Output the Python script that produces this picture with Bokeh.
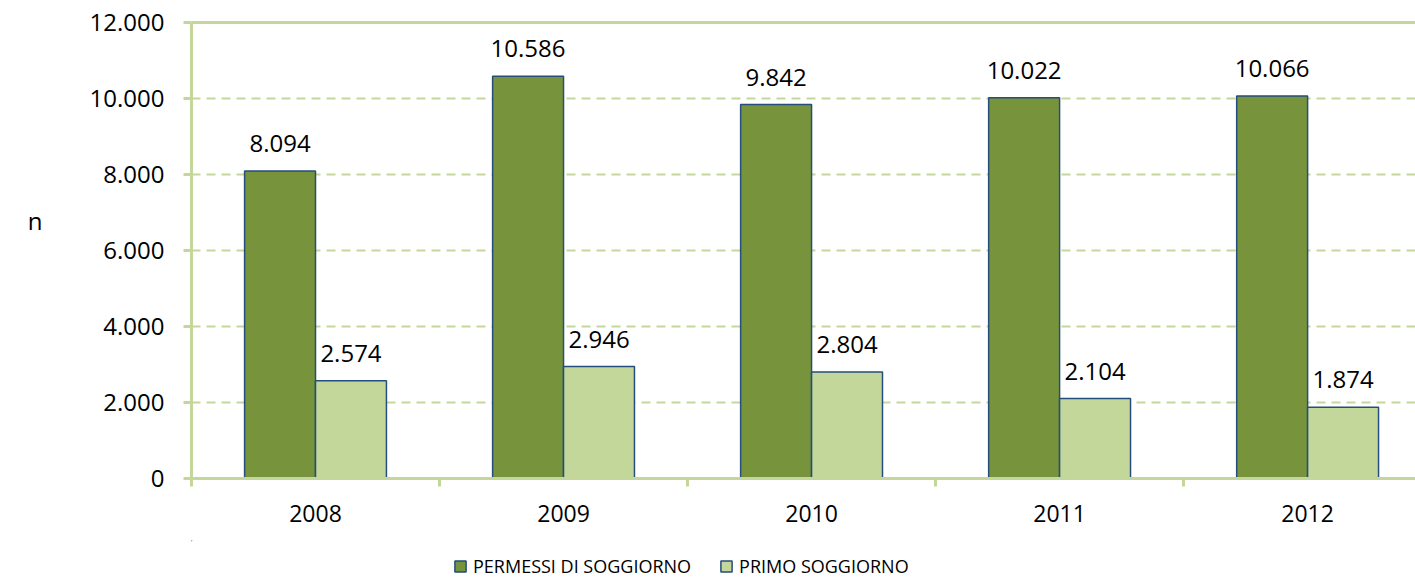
from bokeh.plotting import figure
from bokeh.layouts import column
from bokeh.models import (Range1d, FixedTicker, LinearAxis, Legend, LegendItem,
                          LabelSet, ColumnDataSource, Grid)
from bokeh.core.properties import value
from bokeh.embed import file_html
from bokeh.resources import INLINE

years = ["2008", "2009", "2010", "2011", "2012"]
permessi = [8094, 10586, 9842, 10022, 10066]
primo = [2574, 2946, 2804, 2104, 1874]
y_ticks = [0, 2000, 4000, 6000, 8000, 10000, 12000]
series_names = ["PERMESSI DI SOGGIORNO", "PRIMO SOGGIORNO"]
y_title = "n"

DARK = "#77933c"
LIGHT = "#c4d79b"
EDGE = "#254e7c"
AXIS = "#c4d79b"
FONT = "Open Sans"

def it_fmt(v):
    return f"{v:,}".replace(",", ".")

idx = list(range(len(years)))
bw = 0.286
src1 = ColumnDataSource(dict(x=[i - bw / 2 for i in idx], top=permessi,
                             lab=[it_fmt(v) for v in permessi]))
src2 = ColumnDataSource(dict(x=[i + bw / 2 for i in idx], top=primo,
                             lab=[it_fmt(v) for v in primo]))

p = figure(width=1415, height=540, x_range=Range1d(-0.5, 4.435),
           y_range=Range1d(0, 12000), output_backend="svg",
           toolbar_location=None, x_axis_type=None, y_axis_type=None,
           min_border_left=191, min_border_right=0, min_border_top=22,
           min_border_bottom=62)
p.outline_line_color = None
p.background_fill_color = "white"

# grid
grid = Grid(dimension=1, ticker=FixedTicker(ticks=y_ticks[1:-1]),
            grid_line_color=AXIS, grid_line_width=2, grid_line_dash="9 6")
p.add_layout(grid)

# y axis
yaxis = LinearAxis(ticker=FixedTicker(ticks=y_ticks),
                   major_label_overrides={t: it_fmt(t) for t in y_ticks},
                   axis_line_color=AXIS, axis_line_width=3,
                   major_tick_line_color=AXIS, major_tick_line_width=3,
                   major_tick_out=8, major_tick_in=0,
                   minor_tick_line_color=None,
                   major_label_standoff=19,
                   major_label_text_font=FONT,
                   major_label_text_font_size="24px",
                   major_label_text_color="black")
p.add_layout(yaxis, "left")

# y title as an outer axis whose single label sits at the title's height
title_axis = LinearAxis(ticker=FixedTicker(ticks=[6790]),
                        major_label_overrides={6790: y_title},
                        axis_line_color=None, major_tick_line_color=None,
                        minor_tick_line_color=None, major_tick_out=0,
                        major_tick_in=0, major_label_standoff=44,
                        major_label_text_font=FONT,
                        major_label_text_font_size="24px",
                        major_label_text_color="black")
p.add_layout(title_axis, "left")

# x axis
xaxis = LinearAxis(ticker=FixedTicker(ticks=idx,
                                      minor_ticks=[i - 0.5 for i in range(len(years) + 1)]),
                   major_label_overrides={i: y for i, y in zip(idx, years)},
                   axis_line_color=AXIS, axis_line_width=3,
                   major_tick_line_color=None, major_tick_out=0, major_tick_in=0,
                   minor_tick_line_color=AXIS, minor_tick_line_width=3,
                   minor_tick_out=8, minor_tick_in=0,
                   major_label_standoff=18,
                   major_label_text_font=FONT,
                   major_label_text_font_size="23px",
                   major_label_text_color="black")
p.add_layout(xaxis, "below")

# top border
top = LinearAxis(ticker=FixedTicker(ticks=[]), axis_line_color=AXIS,
                 axis_line_width=3, major_tick_line_color=None,
                 minor_tick_line_color=None, major_label_text_font_size="0px")
p.add_layout(top, "above")

r1 = p.vbar(x="x", top="top", width=bw, source=src1, fill_color=DARK,
            line_color=EDGE, line_width=1.5)
r2 = p.vbar(x="x", top="top", width=bw, source=src2, fill_color=LIGHT,
            line_color=EDGE, line_width=1.5)

for s in (src1, src2):
    p.add_layout(LabelSet(x="x", y="top", text="lab", source=s,
                          text_align="center", text_baseline="alphabetic",
                          y_offset=19, text_font=value(FONT),
                          text_font_size="24px", text_color="black"))

# legend strip below the chart (its frame is aligned with the chart's frame)
lg = figure(width=1415, height=44, x_range=Range1d(0, 1), y_range=Range1d(0, 1),
            output_backend="svg", toolbar_location=None, x_axis_type=None,
            y_axis_type=None, min_border_left=191, min_border_right=0,
            min_border_top=0, min_border_bottom=0)
lg.outline_line_color = None
lg.grid.visible = False
# legend keys: proxy glyphs lying outside the strip's ranges in both directions
k1 = lg.vbar(x=[-5], bottom=[50], top=[51], width=0.1, fill_color=DARK,
             line_color=EDGE, line_width=1.5)
k2 = lg.vbar(x=[-5], bottom=[50], top=[51], width=0.1, fill_color=LIGHT,
             line_color=EDGE, line_width=1.5)
legend = Legend(items=[LegendItem(label=series_names[0], renderers=[k1]),
                       LegendItem(label=series_names[1], renderers=[k2])],
                orientation="horizontal", location=(262, 6),
                padding=0, margin=0, border_line_color=None,
                background_fill_alpha=0, glyph_width=14, glyph_height=14,
                label_standoff=6, spacing=28, label_text_font=FONT,
                label_text_font_size="18px", label_text_color="black")
lg.add_layout(legend)

layout = column(p, lg, spacing=0)
open("out.html", "w").write(file_html(layout, INLINE))
